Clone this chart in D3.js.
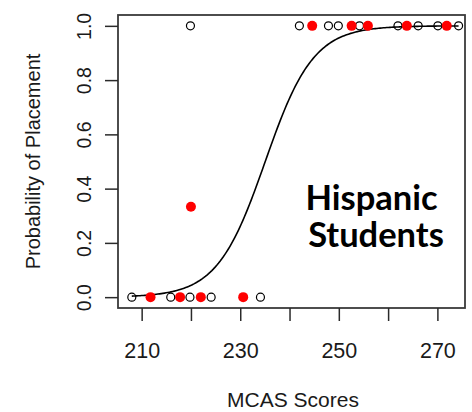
<!DOCTYPE html>
<html>
<head>
<meta charset="utf-8">
<script src="https://cdn.jsdelivr.net/npm/d3@7"></script>
<style>
  html, body { margin: 0; padding: 0; background: #fff; }
  svg { display: block; }
</style>
</head>
<body>
<svg id="chart" width="472" height="412"></svg>
<script>
// Students who were not placed (outcome 0) and placed (outcome 1), by MCAS score
const notPlacedScores = [208.0, 215.9, 219.8, 224.1, 234.1];
const notPlacedSameScoreFailed = [211.8, 217.8, 222.0, 230.6];
const placedScoresOpen = [219.9, 242.0, 247.9, 249.9, 254.2, 262.0, 266.1, 270.1, 274.3];
const placedScoresRed = [244.6, 252.6, 255.9, 263.8, 271.9];
// Group average shown as a single red point
const groupScore = [220.0];
const groupProb = [0.333];

// Fitted logistic regression: logit(p) = intercept + slope * score
const intercept = -48.19;
const slope = 0.205;
const curveFrom = 208.0;
const curveTo = 274.3;

const xTicks = [210, 220, 230, 240, 250, 260, 270];
const xTickLabels = ["210", "", "230", "", "250", "", "270"];
const yTicks = [0.0, 0.2, 0.4, 0.6, 0.8, 1.0];
const yTickLabels = ["0.0", "0.2", "0.4", "0.6", "0.8", "1.0"];

const titleX = "MCAS Scores";
const titleY = "Probability of Placement";
const annotation = ["Hispanic", "Students"];

const svg = d3.select("#chart");
const box = { left: 118, right: 465, top: 15, bottom: 308 };

const x = d3.scaleLinear().domain([205.2, 275.6]).range([box.left, box.right]);
const y = d3.scaleLinear().domain([-0.04, 1.04]).range([box.bottom, box.top]);

const textColor = "#1a1a1a";
const axisFont = "'Liberation Sans', Arial, sans-serif";

// Plot frame
svg.append("rect")
  .attr("x", box.left).attr("y", box.top)
  .attr("width", box.right - box.left).attr("height", box.bottom - box.top)
  .attr("fill", "none").attr("stroke", "#3a3a3a").attr("stroke-width", 1.8);

// X axis ticks and labels
const xAxis = d3.axisBottom(x).tickValues(xTicks).tickSize(13)
  .tickFormat((d, i) => xTickLabels[i]);
const gx = svg.append("g").attr("transform", `translate(0,${box.bottom})`).call(xAxis);
gx.select(".domain").remove();
gx.selectAll(".tick line").attr("stroke", "#2a2a2a").attr("stroke-width", 1.5);
gx.selectAll(".tick text")
  .attr("y", 50).attr("dy", 0)
  .attr("fill", textColor)
  .style("font-family", axisFont).style("font-size", "21.5px");

// Y axis ticks and labels (labels rotated like base R graphics)
const yAxis = d3.axisLeft(y).tickValues(yTicks).tickSize(13)
  .tickFormat((d, i) => yTickLabels[i]);
const gy = svg.append("g").attr("transform", `translate(${box.left},0)`).call(yAxis);
gy.select(".domain").remove();
gy.selectAll(".tick line").attr("stroke", "#2a2a2a").attr("stroke-width", 1.5);
gy.selectAll(".tick text")
  .attr("x", null).attr("dy", null)
  .attr("transform", "translate(-27,0) rotate(-90)")
  .attr("text-anchor", "middle")
  .attr("fill", textColor)
  .style("font-family", axisFont).style("font-size", "19.5px");

// Axis titles
svg.append("text")
  .attr("x", 293).attr("y", 407)
  .attr("text-anchor", "middle")
  .attr("fill", textColor)
  .style("font-family", axisFont).style("font-size", "21px")
  .text(titleX);

svg.append("text")
  .attr("transform", `translate(39.5,${(box.top + box.bottom) / 2}) rotate(-90)`)
  .attr("text-anchor", "middle")
  .attr("fill", textColor)
  .style("font-family", axisFont).style("font-size", "20px")
  .text(titleY);

// Fitted probability curve
const logistic = s => 1 / (1 + Math.exp(-(intercept + slope * s)));
const curveXs = d3.range(0, 201).map(i => curveFrom + (curveTo - curveFrom) * i / 200);
svg.append("path")
  .datum(curveXs)
  .attr("fill", "none").attr("stroke", "#000").attr("stroke-width", 1.6)
  .attr("d", d3.line().x(d => x(d)).y(d => y(logistic(d))));

// Open circles
const openPts = notPlacedScores.map(s => [s, 0]).concat(placedScoresOpen.map(s => [s, 1]));
svg.append("g").selectAll("circle").data(openPts).join("circle")
  .attr("cx", d => x(d[0])).attr("cy", d => y(d[1])).attr("r", 4)
  .attr("fill", "none").attr("stroke", "#000").attr("stroke-width", 1.2);

// Filled red points
const redPts = notPlacedSameScoreFailed.map(s => [s, 0])
  .concat(placedScoresRed.map(s => [s, 1]))
  .concat(groupScore.map((s, i) => [s, groupProb[i]]));
svg.append("g").selectAll("circle").data(redPts).join("circle")
  .attr("cx", d => x(d[0])).attr("cy", d => y(d[1])).attr("r", 5)
  .attr("fill", "#ff0000");

// Annotation
const annLines = [
  { text: annotation[0], x: 371.5, y: 210 },
  { text: annotation[1], x: 376, y: 247 }
];
svg.append("g").selectAll("text").data(annLines).join("text")
  .attr("x", d => d.x).attr("y", d => d.y)
  .attr("text-anchor", "middle")
  .attr("fill", "#000")
  .style("font-family", "Lato, 'Open Sans', sans-serif")
  .style("font-weight", "bold").style("font-size", "34.5px")
  .text(d => d.text);
</script>
</body>
</html>
